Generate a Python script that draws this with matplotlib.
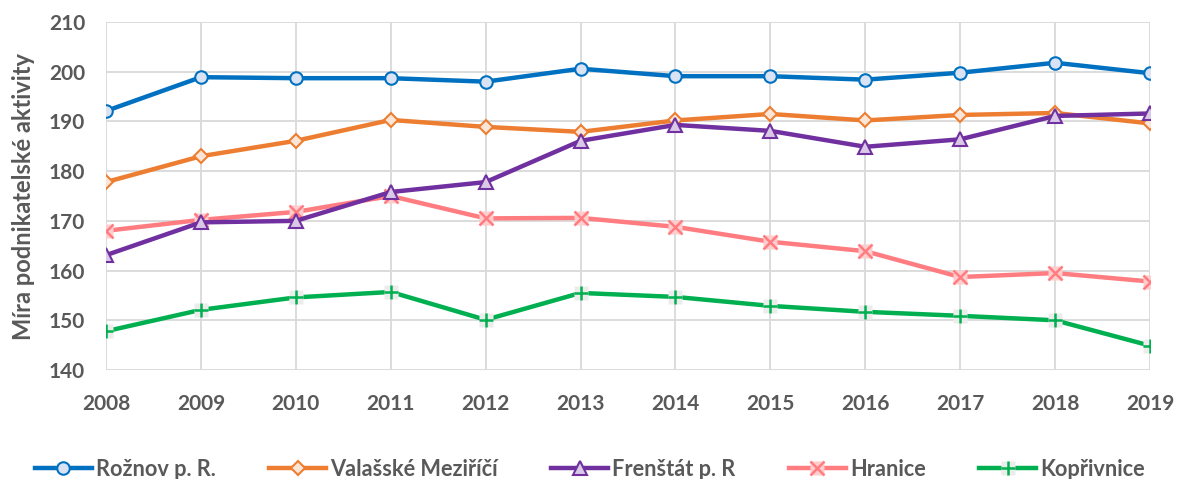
import matplotlib
matplotlib.use("Agg")
import matplotlib.pyplot as plt

plt.rcParams['font.family'] = ['Lato', 'DejaVu Sans']
plt.rcParams['font.weight'] = 'bold'

years = [2008, 2009, 2010, 2011, 2012, 2013, 2014, 2015, 2016, 2017, 2018, 2019]
roznov = [192.1, 198.9, 198.7, 198.7, 198.0, 200.6, 199.1, 199.1, 198.4, 199.8, 201.8, 199.7]
valasske = [177.8, 183.0, 186.1, 190.3, 188.9, 187.9, 190.2, 191.5, 190.2, 191.3, 191.7, 189.6]
frenstat = [163.1, 169.7, 170.0, 175.8, 177.8, 186.1, 189.3, 188.1, 184.9, 186.4, 191.1, 191.6]
hranice = [168.0, 170.2, 171.8, 175.0, 170.5, 170.6, 168.8, 165.8, 163.9, 158.7, 159.5, 157.8]
koprivnice = [147.8, 152.1, 154.6, 155.7, 150.1, 155.5, 154.7, 152.9, 151.7, 150.9, 150.0, 144.9]
labels = ["Rožnov p. R.", "Valašské Meziříčí", "Frenštát p. R", "Hranice", "Kopřivnice"]

fig = plt.figure(figsize=(11.8, 4.79), dpi=100)
ax = fig.add_axes([106/1180, 1-370/479, (1150-106)/1180, 348/479])

lw = 3.2
h1, = ax.plot(years, roznov, color='#0070c0', lw=lw, marker='o', ms=9,
              mfc='#dae3f3', mec='#0070c0', mew=1.5, zorder=5)
h2, = ax.plot(years, valasske, color='#ed7d31', lw=lw, marker='D', ms=7.5,
              mfc='#fbe5d6', mec='#ed7d31', mew=1.5, zorder=4)
h3, = ax.plot(years, frenstat, color='#7030a0', lw=lw, marker='^', ms=10,
              mfc='#d9c9e6', mec='#7030a0', mew=1.5, zorder=6)
h4a, = ax.plot(years, hranice, color='#ff7c80', lw=lw, marker='s', ms=10,
               mfc='#ffcdce', mec='none', zorder=3)
h4b, = ax.plot(years, hranice, color='#ff7c80', lw=0, marker='x', ms=10,
               mew=1.8, zorder=3.1)
h5a, = ax.plot(years, koprivnice, color='#00b050', lw=lw, marker='s', ms=10,
               mfc='#ececec', mec='none', zorder=3)
h5b, = ax.plot(years, koprivnice, color='#00b050', lw=0, marker='+', ms=10,
               mew=1.8, zorder=3.1)

ax.set_xlim(2008, 2019)
ax.set_ylim(140, 210)
ax.set_xticks(years)
ax.set_yticks(range(140, 211, 10))
ax.grid(True, color='#d9d9d9', lw=1.3)
ax.set_axisbelow(True)
for s in ax.spines.values():
    s.set_visible(False)
ax.tick_params(axis='x', length=0, labelsize=15, labelcolor='#595959', pad=17)
ax.tick_params(axis='y', length=0, labelsize=15, labelcolor='#595959', pad=15)
ax.set_ylabel("Míra podnikatelské aktivity", fontsize=17, fontweight='bold',
              color='#595959', labelpad=10)

leg = fig.legend([h1, h2, h3, (h4a, h4b), (h5a, h5b)], labels, loc='center',
                 bbox_to_anchor=(0.5, 1-469/479), ncol=5, frameon=False,
                 fontsize=15.7, handlelength=2.6, handletextpad=0.2,
                 columnspacing=2.45, labelcolor='#595959')

fig.savefig("out.png", dpi=100)
